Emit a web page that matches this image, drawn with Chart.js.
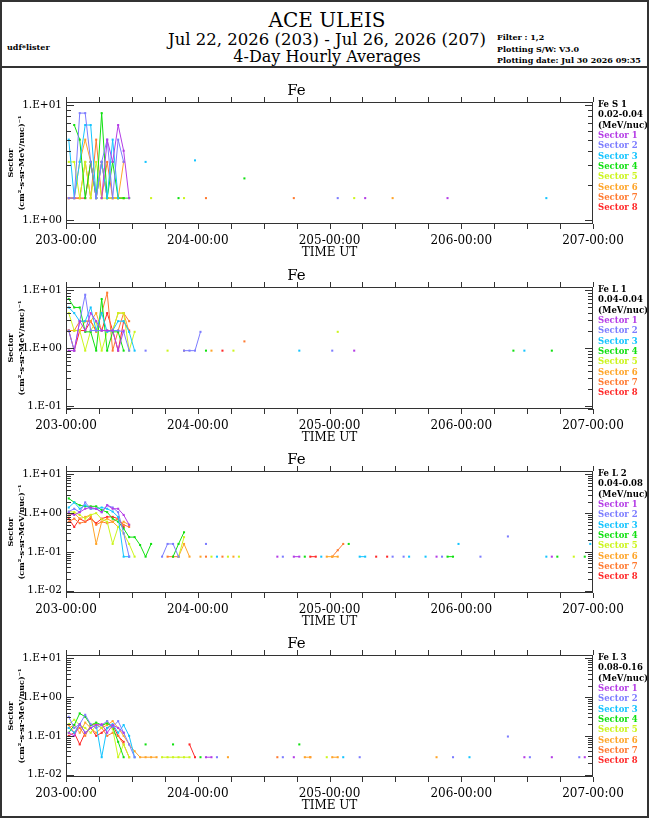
<!DOCTYPE html>
<html>
<head>
<meta charset="utf-8">
<title>ACE ULEIS - Fe sectors</title>
<script src="https://cdn.jsdelivr.net/npm/chart.js@4.4.1/dist/chart.umd.min.js"></script>
<style>
    html, body { margin: 0; padding: 0; background: #fff; }
    body { width: 650px; height: 819px; position: relative; overflow: hidden; font-family: "DejaVu Serif", serif; color: #000; }
    #frame { position: absolute; left: 0; top: 0; width: 649px; height: 818px; box-sizing: border-box; border: 2px solid #333; z-index: 5; pointer-events: none; }
    #rule { position: absolute; left: 0; top: 66px; width: 649px; height: 2px; background: #333; }
    .hdr { position: absolute; left: 0; width: 654px; text-align: center; white-space: nowrap; }
    .small { position: absolute; font: bold 8px/10px "DejaVu Serif", serif; white-space: nowrap; }
    canvas { position: absolute; left: 0; }
    .legend { position: absolute; left: 598px; font: bold 8.5px/10.35px "DejaVu Serif", serif; white-space: nowrap; }
</style>
</head>
<body>
<div id="frame"></div>
<div id="rule"></div>
<div class="hdr" style="top:8px; font-size:20px; line-height:24px;">ACE ULEIS</div>
<div class="hdr" style="top:30px; font-size:16.5px; line-height:20px;">Jul 22, 2026 (203) - Jul 26, 2026 (207)</div>
<div class="hdr" style="top:47px; font-size:16px; line-height:20px;">4-Day Hourly Averages</div>
<div class="small" style="left:7px; top:42px;">udf*lister</div>
<div class="small" style="left:497px; top:32px;">Filter : 1,2</div>
<div class="small" style="left:497px; top:44px;">Plotting S/W: V3.0</div>
<div class="small" style="left:497px; top:55px;">Plotting date: Jul 30 2026 09:35</div>
<div id="panels"></div>

<script>
// ---- Data ----
// x = hours since 203-00:00, y = flux (cm^2-s-sr-MeV/nuc)^-1
// each segment: [start hour, value, value, ...] at consecutive hours
const sectorNames = ['Sector 1', 'Sector 2', 'Sector 3', 'Sector 4', 'Sector 5', 'Sector 6', 'Sector 7', 'Sector 8'];
const sectorColors = ['#b43ce6', '#7c7cff', '#14c4ff', '#10e010', '#ccf51e', '#ffa428', '#ff7a30', '#ff2828'];

const dayTicks = [0, 24, 48, 72, 96];
const dayLabels = ['203-00:00', '204-00:00', '205-00:00', '206-00:00', '207-00:00'];

const panelLabels = [
    ['Fe S 1', '0.02-0.04', '(MeV/nuc)'],
    ['Fe L 1', '0.04-0.04', '(MeV/nuc)'],
    ['Fe L 2', '0.04-0.08', '(MeV/nuc)'],
    ['Fe L 3', '0.08-0.16', '(MeV/nuc)']
];
const panelRanges = [[0.923, 10.62], [0.0887, 11.27], [0.00862, 12.3], [0.00862, 12.3]];

const feS1 = [
    [[6.5, 1.55, 5.0, 3.2, 6.7, 4.0, 1.55], [54.5, 1.55], [69.5, 1.55]],
    [[0.5, 1.55, 1.55, 8.5, 8.5, 3.2, 1.55, 3.2, 5.0, 1.55, 5.0, 3.2], [49.5, 1.55]],
    [[0.5, 5.0, 1.55, 3.2, 6.7, 6.7, 1.55, 3.2, 1.55, 5.0, 1.55], [14.5, 3.2], [23.5, 3.3], [87.5, 1.55]],
    [[1.5, 6.7, 5.0, 1.55, 3.2, 1.55, 8.5, 1.55, 3.2, 1.55, 1.55, 1.55], [20.5, 1.55], [32.5, 2.3]],
    [[0.5, 3.2, 3.2, 1.55, 3.2, 1.55, 3.2, 1.55, 1.55, 1.55, 1.55, 1.55], [15.5, 1.55], [21.5, 1.55], [52.5, 1.55]],
    [[0.5, 1.55, 1.55, 3.2, 5.0, 3.2, 1.55, 3.2, 1.55, 1.55, 1.55, 3.2], [59.5, 1.55]],
    [[0.5, 1.55, 1.55, 1.55, 3.2, 1.55, 5.0, 1.55, 3.2, 1.55, 1.55, 1.55], [25.5, 1.55], [41.5, 1.55]],
    [[0.5, 1.55, 1.55, 1.55, 1.55, 3.2, 1.55, 3.2, 1.55, 1.55, 1.55, 1.55]]
];

const feL1 = [
    [[0.5, 0.9, 0.9, 2.9, 2.0, 4.0, 2.9, 2.0, 2.0, 2.0, 0.9, 2.0], [52.5, 0.9]],
    [[0.5, 2.0, 0.9, 2.9, 8.3, 2.0, 2.0, 2.0, 2.0, 2.0, 2.0, 1.9, 0.9], [14.5, 0.9], [21.5, 0.9, 0.9, 0.9, 1.9], [48.5, 0.9]],
    [[0.5, 5.0, 4.0, 2.9, 2.9, 5.0, 2.0, 4.0, 1.9, 2.0, 2.9, 2.9, 1.9, 0.9], [42.5, 0.9], [83.5, 0.9]],
    [[0.5, 7.0, 5.0, 5.0, 1.9, 1.9, 0.9, 7.0, 0.9, 1.9, 1.9, 0.9], [25.5, 0.9], [81.5, 0.9], [88.5, 0.9]],
    [[0.5, 4.0, 2.0, 2.0, 0.9, 2.0, 2.9, 0.9, 1.9, 2.0, 4.0, 4.0, 0.9, 1.9], [18.5, 0.9], [30.5, 0.9], [49.5, 1.9]],
    [[0.5, 2.0, 2.0, 2.0, 2.9, 2.9, 4.0, 2.0, 2.0, 2.0, 4.0, 4.0, 1.9], [21.5, 0.9], [26.5, 0.9]],
    [[0.5, 2.0, 2.0, 2.9, 2.9, 2.9, 1.9, 4.0, 9.0, 0.9, 2.0, 4.0, 2.9], [32.5, 1.3]],
    [[0.5, 2.0, 0.9, 2.0, 2.0, 2.9, 2.0, 2.0, 4.0, 2.0, 0.9, 2.9, 2.0], [28.5, 0.9]]
];

const feL2 = [
    [[0.5, 1.0, 0.9, 1.06, 1.3, 1.4, 1.3, 1.06, 1.6, 1.3, 1.3, 0.9, 0.5], [38.5, 0.075], [41.5, 0.075, 0.075], [67.5, 0.075], [88.5, 0.075]],
    [[0.5, 1.1, 1.3, 1.06, 1.9, 1.3, 1.3, 1.06, 1.6, 1.4, 1.06, 0.3, 0.075], [17.5, 0.075, 0.16, 0.16, 0.075], [25.5, 0.16], [39.5, 0.075],
        [59.5, 0.075], [61.5, 0.075], [68.5, 0.075], [75.5, 0.075], [80.5, 0.25]],
    [[0.5, 1.4, 1.9, 1.3, 1.6, 1.3, 1.3, 1.4, 1.3, 1.1, 0.8, 0.075, 0.075], [27.5, 0.075], [46.5, 0.075], [53.5, 0.075, 0.075],
        [62.5, 0.075], [65.5, 0.075], [71.5, 0.16], [87.5, 0.075], [95.5, 0.16]],
    [[0.5, 2.4, 1.9, 1.6, 1.5, 1.5, 1.5, 1.2, 1.06, 0.72, 0.6, 0.4, 0.24, 0.24, 0.15, 0.075, 0.16], [19.5, 0.075, 0.16, 0.32],
        [43.5, 0.075], [51.5, 0.16], [69.5, 0.075, 0.075], [89.5, 0.075], [94.5, 0.075]],
    [[0.5, 1.1, 1.06, 0.9, 0.72, 0.9, 1.0, 0.7, 0.6, 0.16, 0.44, 0.3, 0.16, 0.075], [20.5, 0.075, 0.24], [26.5, 0.075],
        [29.5, 0.075], [31.5, 0.075], [92.5, 0.075]],
    [[0.5, 0.87, 1.0, 0.72, 0.8, 0.9, 0.16, 0.6, 0.72, 0.6, 0.44, 0.6, 0.5], [20.5, 0.075, 0.16, 0.075], [24.5, 0.075], [30.5, 0.075],
        [47.5, 0.075, 0.075, 0.075]],
    [[0.5, 0.6, 0.72, 0.55, 0.6, 0.8, 0.5, 0.6, 0.55, 0.6, 0.72, 0.5, 0.44], [18.5, 0.075, 0.075, 0.075], [25.5, 0.075], [28.5, 0.075],
        [48.5, 0.075, 0.11, 0.16]],
    [[0.5, 0.72, 0.44, 0.72, 0.6, 0.72, 0.55, 0.72, 0.8, 0.8, 0.72, 0.44], [44.5, 0.075, 0.075], [56.5, 0.075], [58.5, 0.075]]
];

const feL3 = [
    [[0.5, 0.12, 0.1, 0.2, 0.12, 0.16, 0.19, 0.2, 0.12, 0.19, 0.16, 0.12], [25.5, 0.028, 0.028], [41.5, 0.028], [83.5, 0.028],
        [88.5, 0.028], [94.5, 0.028]],
    [[0.5, 0.31, 0.16, 0.2, 0.35, 0.2, 0.16, 0.19, 0.24, 0.17, 0.24, 0.12, 0.06, 0.028], [27.5, 0.028], [39.5, 0.028], [53.5, 0.028],
        [70.5, 0.028], [80.5, 0.096], [84.5, 0.028], [93.5, 0.028]],
    [[0.5, 0.16, 0.12, 0.2, 0.12, 0.16, 0.19, 0.028, 0.16, 0.2, 0.12, 0.19, 0.1, 0.028], [50.5, 0.028], [73.5, 0.028]],
    [[0.5, 0.12, 0.19, 0.38, 0.31, 0.19, 0.22, 0.19, 0.21, 0.17, 0.07, 0.028], [14.5, 0.06], [19.5, 0.06], [24.5, 0.028], [42.5, 0.06]],
    [[0.5, 0.2, 0.26, 0.19, 0.16, 0.12, 0.19, 0.16, 0.24, 0.15, 0.028, 0.06, 0.028], [17.5, 0.028, 0.028, 0.028, 0.028, 0.028, 0.028],
        [47.5, 0.028]],
    [[0.5, 0.16, 0.19, 0.12, 0.22, 0.16, 0.12, 0.16, 0.19, 0.24, 0.16, 0.1, 0.06, 0.04, 0.028, 0.028, 0.028, 0.028], [29.5, 0.028],
        [43.5, 0.028, 0.028], [48.5, 0.028, 0.028], [67.5, 0.028]],
    [[0.5, 0.19, 0.12, 0.16, 0.1, 0.19, 0.2, 0.16, 0.1, 0.12, 0.1, 0.06, 0.028], [38.5, 0.028], [44.5, 0.028]],
    [[0.5, 0.1, 0.12, 0.06, 0.12, 0.16, 0.1, 0.12, 0.16, 0.19, 0.1, 0.07], [22.5, 0.06, 0.028]]
];

const panelData = [feS1, feL1, feL2, feL3];

// ---- Layout ----
const PLOT_TOPS = [102, 287, 471, 655];
const BOX_H = 122;
const TITLE_H = 24;
const XAXIS_H = 40;
const FONT = '"DejaVu Serif", serif';

document.addEventListener('DOMContentLoaded', () => {
    panelData.forEach((sectors, i) => buildPanel(i, sectors));
});

// segments -> {x,y} points, with a null between segments so lines break
function toPoints(segments) {
    const pts = [];
    segments.slice().sort((a, b) => a[0] - b[0]).forEach(seg => {
        const start = seg[0];
        if (pts.length) pts.push({ x: start - 0.5, y: null });
        seg.slice(1).forEach((v, k) => pts.push({ x: start + k, y: v }));
    });
    return pts;
}

function expLabel(v) {
    const e = Math.round(Math.log10(v));
    return '1.E' + (e < 0 ? '-' : '+') + String(Math.abs(e)).padStart(2, '0');
}

// box, inward y ticks (both sides), outward x ticks every 6 hours
const framePlugin = {
    id: 'frame',
    afterDraw(chart) {
        const { ctx, chartArea: a, scales } = chart;
        const y = scales.y;
        ctx.save();
        ctx.strokeStyle = '#333';
        ctx.lineWidth = 1;
        ctx.strokeRect(a.left + 0.5, a.top + 0.5, a.right - a.left - 1, a.bottom - a.top - 1);
        ctx.beginPath();
        const lo = Math.floor(Math.log10(y.min)), hi = Math.floor(Math.log10(y.max));
        for (let d = lo; d <= hi; d++) {
            for (let m = 1; m <= 9; m++) {
                const v = m * Math.pow(10, d);
                if (v < y.min || v > y.max) continue;
                const py = Math.round(y.getPixelForValue(v)) + 0.5;
                const len = m === 1 ? 8 : 5;
                ctx.moveTo(a.left, py); ctx.lineTo(a.left + len, py);
                ctx.moveTo(a.right, py); ctx.lineTo(a.right - len, py);
            }
        }
        for (let h = 0; h <= 96; h += 6) {
            const px = Math.round(scales.x.getPixelForValue(h)) + 0.5;
            ctx.moveTo(px, a.top); ctx.lineTo(px, a.top - 5);
            ctx.moveTo(px, a.bottom); ctx.lineTo(px, a.bottom + 5);
        }
        ctx.stroke();
        ctx.restore();
    }
};

function buildPanel(idx, sectors) {
    const top = PLOT_TOPS[idx];
    const [ymin, ymax] = panelRanges[idx];

    // 1. Canvas
    const canvas = document.createElement('canvas');
    const h = TITLE_H + BOX_H + XAXIS_H;
    canvas.width = 650;
    canvas.height = h;
    canvas.style.top = (top - TITLE_H) + 'px';
    canvas.style.width = '650px';
    canvas.style.height = h + 'px';
    document.getElementById('panels').appendChild(canvas);

    // 2. Legend text
    const legend = document.createElement('div');
    legend.className = 'legend';
    legend.style.top = (top - 3) + 'px';
    legend.innerHTML = panelLabels[idx].map(t => `<div>${t}</div>`).join('') +
        sectorNames.map((n, k) => `<div style="color:${sectorColors[k]}">${n}</div>`).join('');
    document.body.appendChild(legend);

    // 3. Chart
    const datasets = sectors.map((segs, k) => ({
        label: sectorNames[k],
        data: toPoints(segs),
        borderColor: sectorColors[k],
        backgroundColor: sectorColors[k],
        borderWidth: 1,
        pointRadius: 1.45,
        pointStyle: 'rect',
        pointBorderWidth: 0,
        spanGaps: false,
        tension: 0
    }));

    new Chart(canvas, {
        type: 'line',
        data: { datasets },
        plugins: [framePlugin],
        options: {
            responsive: false,
            animation: false,
            devicePixelRatio: 1,
            layout: { padding: { left: 0, right: 57, top: 0, bottom: 0 } },
            plugins: {
                legend: { display: false },
                tooltip: { enabled: false },
                title: {
                    display: true, text: 'Fe', color: '#000',
                    font: { family: FONT, size: 15, weight: 'normal' },
                    padding: { top: 4, bottom: 2 }
                }
            },
            scales: {
                x: {
                    type: 'linear', min: 0, max: 96,
                    grid: { display: false, drawTicks: false },
                    border: { display: false },
                    afterBuildTicks: s => { s.ticks = dayTicks.map(v => ({ value: v })); },
                    afterFit: s => { s.height = XAXIS_H; },
                    ticks: {
                        color: '#000', padding: 10, maxRotation: 0, autoSkip: false,
                        font: { family: FONT, size: 12 },
                        callback: v => dayLabels[dayTicks.indexOf(v)]
                    },
                    title: {
                        display: true, text: 'TIME UT', color: '#000',
                        font: { family: FONT, size: 12 },
                        padding: { top: 0, bottom: 4 }
                    }
                },
                y: {
                    type: 'logarithmic', min: ymin, max: ymax,
                    grid: { display: false, drawTicks: false },
                    border: { display: false },
                    afterBuildTicks: s => {
                        const t = [];
                        for (let e = Math.ceil(Math.log10(ymin)); e <= Math.floor(Math.log10(ymax)); e++) t.push({ value: Math.pow(10, e) });
                        s.ticks = t;
                    },
                    afterFit: s => { s.width = 66; },
                    ticks: {
                        color: '#000', padding: 4,
                        font: { family: FONT, size: 10.5 },
                        callback: v => expLabel(v)
                    },
                    title: {
                        display: true, color: '#000',
                        text: ['Sector', '(cm\u00b2-s-sr-MeV/nuc)\u207b\u00b9'],
                        font: { family: FONT, size: 8, weight: 'bold', lineHeight: '11px' },
                        padding: { top: 5.5, bottom: 0 }
                    }
                }
            }
        }
    });
}
</script>
</body>
</html>
